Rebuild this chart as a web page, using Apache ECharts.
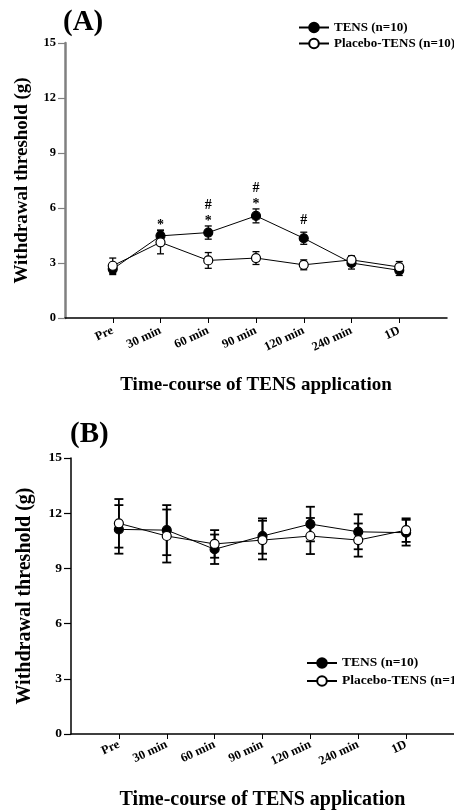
<!DOCTYPE html>
<html>
<head>
<meta charset="utf-8">
<title>TENS withdrawal threshold</title>
<script src="https://cdn.jsdelivr.net/npm/echarts@6/dist/echarts.min.js"></script>
<style>
  html, body { margin: 0; padding: 0; background: #fff; }
  #chart { width: 454px; height: 811px; }
</style>
</head>
<body>
<div id="chart"></div>
<script>
// x categories and y ticks
var categories = ['Pre', '30 min', '60 min', '90 min', '120 min', '240 min', '1D'];
var yTicks = [0, 3, 6, 9, 12, 15];
var seriesNames = ['TENS (n=10)', 'Placebo-TENS (n=10)'];

// panel (A)
var tensA = [2.67, 4.48, 4.66, 5.57, 4.35, 3.0, 2.6];
var tensAErr = [0.3, 0.32, 0.36, 0.38, 0.33, 0.33, 0.28];
var placeboA = [2.85, 4.13, 3.14, 3.27, 2.9, 3.17, 2.78];
var placeboAErr = [0.42, 0.63, 0.43, 0.35, 0.27, 0.22, 0.3];
var starA = ['', '*', '*', '*', '', '', ''];
var hashA = ['', '', '#', '#', '#', '', ''];

// panel (B)
var tensB = [11.12, 11.08, 10.04, 10.76, 11.41, 10.99, 10.94];
var tensBErr = [1.32, 1.36, 0.8, 0.96, 0.94, 0.95, 0.7];
var placeboB = [11.45, 10.76, 10.33, 10.54, 10.76, 10.54, 11.08];
var placeboBErr = [1.32, 1.44, 0.75, 1.05, 0.98, 0.9, 0.64];

var FONT = '"Liberation Serif", "Times New Roman", serif';
var catPos = categories.map(function (c, i) { return i + 1; });

function points(vals) {
  return vals.map(function (v, i) { return [i + 1, v]; });
}
function errData(vals, errs) {
  return vals.map(function (v, i) { return [i + 1, v - errs[i], v + errs[i]]; });
}

function errSeries(idx, vals, errs, cap, width) {
  return {
    type: 'custom',
    xAxisIndex: idx,
    yAxisIndex: idx,
    z: 1,
    silent: true,
    data: errData(vals, errs),
    renderItem: function (params, api) {
      var lo = api.coord([api.value(0), api.value(1)]);
      var hi = api.coord([api.value(0), api.value(2)]);
      var st = { stroke: '#000', lineWidth: width };
      return {
        type: 'group',
        children: [
          { type: 'line', shape: { x1: lo[0], y1: lo[1], x2: hi[0], y2: hi[1] }, style: st },
          { type: 'line', shape: { x1: lo[0] - cap, y1: lo[1], x2: lo[0] + cap, y2: lo[1] }, style: st },
          { type: 'line', shape: { x1: hi[0] - cap, y1: hi[1], x2: hi[0] + cap, y2: hi[1] }, style: st }
        ]
      };
    }
  };
}

function lineSeries(idx, name, vals, filled, size) {
  return {
    name: name,
    type: 'line',
    xAxisIndex: idx,
    yAxisIndex: idx,
    z: filled ? 3 : 4,
    data: points(vals),
    symbol: 'circle',
    symbolSize: size,
    lineStyle: { color: '#000', width: 1 },
    itemStyle: { color: filled ? '#000' : '#fff', borderColor: '#000', borderWidth: 1.2 },
    emphasis: { disabled: true }
  };
}

function xAxis(idx, labelSize, margin, nameSize, nameGap) {
  return {
    type: 'value',
    gridIndex: idx,
    min: 0,
    max: 8,
    interval: 1,
    name: 'Time-course of TENS application',
    nameLocation: 'middle',
    nameGap: nameGap,
    nameTextStyle: { fontFamily: FONT, fontWeight: 'bold', fontSize: nameSize, color: '#000' },
    axisLine: { lineStyle: { color: '#000', width: 1.5 } },
    axisTick: { customValues: catPos, length: 5, lineStyle: { color: '#000', width: 1 } },
    axisLabel: {
      customValues: catPos,
      rotate: 25,
      margin: margin,
      fontFamily: FONT,
      fontWeight: 'bold',
      fontSize: labelSize,
      color: '#000',
      formatter: function (v) { return categories[v - 1] || ''; }
    },
    splitLine: { show: false }
  };
}

function yAxis(idx, axisColor, axisWidth, labelSize, nameSize, nameGap) {
  return {
    type: 'value',
    gridIndex: idx,
    min: 0,
    max: 15,
    interval: 3,
    name: 'Withdrawal threshold (g)',
    nameLocation: 'middle',
    nameGap: nameGap,
    nameTextStyle: { fontFamily: FONT, fontWeight: 'bold', fontSize: nameSize, color: '#000' },
    axisLine: { show: true, lineStyle: { color: axisColor, width: axisWidth } },
    axisTick: { show: true, length: 7, lineStyle: { color: axisColor, width: 1.2 } },
    axisLabel: {
      margin: 9,
      fontFamily: FONT,
      fontWeight: 'bold',
      fontSize: labelSize,
      color: '#000',
      customValues: yTicks
    },
    splitLine: { show: false }
  };
}

var chart = echarts.init(document.getElementById('chart'));

chart.setOption({
  animation: false,
  backgroundColor: '#fff',
  grid: [
    { left: 65, top: 43, width: 382, height: 275 },
    { left: 71, top: 458, width: 393, height: 276 }
  ],
  xAxis: [xAxis(0, 12.5, 12, 19, 58), xAxis(1, 12.5, 10, 20, 56)],
  yAxis: [yAxis(0, '#808080', 2.5, 12.5, 19, 33), yAxis(1, '#000', 1.5, 13.5, 20, 36)],
  legend: [
    {
      data: seriesNames,
      orient: 'vertical',
      left: 293,
      top: 16,
      itemWidth: 30,
      itemHeight: 12,
      itemGap: 3,
      selectedMode: false,
      textStyle: { fontFamily: FONT, fontWeight: 'bold', fontSize: 13, color: '#000' }
    },
    {
      data: seriesNames,
      orient: 'vertical',
      left: 301,
      top: 651,
      itemWidth: 30,
      itemHeight: 12,
      itemGap: 4,
      selectedMode: false,
      textStyle: { fontFamily: FONT, fontWeight: 'bold', fontSize: 13.5, color: '#000' }
    }
  ],
  graphic: [
    { type: 'text', left: 63, top: 8, style: { text: '(A)', font: 'bold 29px ' + FONT, fill: '#000' } },
    { type: 'text', left: 70, top: 420, style: { text: '(B)', font: 'bold 29px ' + FONT, fill: '#000' } }
  ],
  series: [
    errSeries(0, tensA, tensAErr, 3.5, 1.3),
    errSeries(0, placeboA, placeboAErr, 3.5, 1.3),
    lineSeries(0, seriesNames[0], tensA, true, 9),
    lineSeries(0, seriesNames[1], placeboA, false, 9),
    {
      type: 'custom',
      xAxisIndex: 0,
      yAxisIndex: 0,
      z: 5,
      silent: true,
      data: tensA.map(function (v, i) { return [i + 1, v + tensAErr[i], starA[i], hashA[i]]; }),
      renderItem: function (params, api) {
        var p = api.coord([api.value(0), api.value(1)]);
        var star = starA[params.dataIndex];
        var hash = hashA[params.dataIndex];
        var kids = [];
        var font = 'bold 14px ' + FONT;
        if (star) {
          kids.push({ type: 'text', style: { text: star, x: p[0], y: p[1] - 5, align: 'center', verticalAlign: 'middle', font: font, fill: '#000' } });
        }
        if (hash) {
          kids.push({ type: 'text', style: { text: hash, x: p[0], y: p[1] - (star ? 21 : 12), align: 'center', verticalAlign: 'middle', font: font, fill: '#000' } });
        }
        return { type: 'group', children: kids };
      }
    },
    errSeries(1, tensB, tensBErr, 4.5, 1.8),
    errSeries(1, placeboB, placeboBErr, 4.5, 1.8),
    lineSeries(1, seriesNames[0], tensB, true, 9),
    lineSeries(1, seriesNames[1], placeboB, false, 9)
  ]
});
</script>
</body>
</html>
